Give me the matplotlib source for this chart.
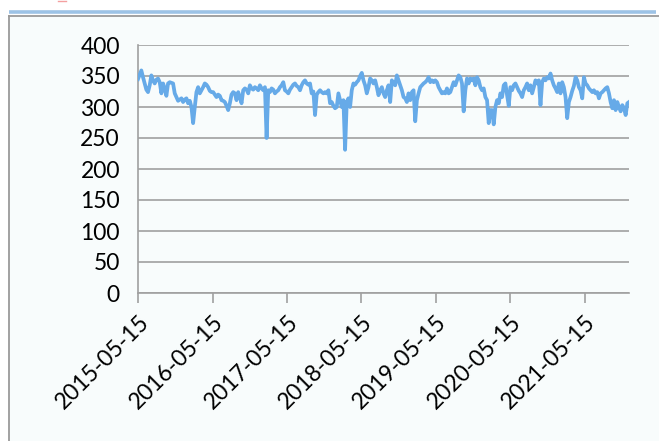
import matplotlib
matplotlib.use("Agg")
import matplotlib.pyplot as plt
import matplotlib.dates as mdates
from matplotlib.lines import Line2D
from matplotlib.patches import Rectangle
import pandas as pd

plt.rcParams['font.family'] = ['Lato', 'DejaVu Sans']

start_date = "2015-05-15"
end_date = "2021-12-18"

values = [
    # 2015-05 .. 2016-05
    345, 352, 359, 348, 338, 328, 324, 335, 351, 343, 338, 344, 346, 340, 322,
    338, 330, 318, 338, 340, 339, 338, 322, 316, 310, 312, 314, 308, 312, 314,
    306, 310, 300, 274, 300, 324, 332, 322, 327, 332, 338, 336, 332,
    # 2016-05 .. 2017-05
    326, 324, 324, 320, 316, 320, 318, 311, 310, 308, 302, 295, 306, 320, 324,
    322, 311, 324, 316, 306, 327, 330, 328, 322, 335, 330, 328, 332, 330, 327,
    335, 330, 327, 332, 250, 327, 324, 330, 328, 322, 325, 327, 332, 335, 340,
    # 2017-05 .. 2018-05
    327, 325, 322, 328, 332, 336, 338, 334, 332, 327, 335, 340, 343, 338, 336,
    338, 322, 325, 287, 320, 324, 327, 324, 322, 324, 322, 327, 306, 308, 302,
    298, 300, 322, 311, 300, 311, 231, 308, 314, 300, 327, 338, 336, 340, 343,
    # 2018-05 .. 2019-05
    350, 355, 343, 335, 322, 332, 346, 343, 338, 343, 332, 319, 327, 332, 322,
    316, 327, 335, 308, 343, 338, 335, 351, 343, 335, 327, 316, 314, 308, 322,
    311, 324, 327, 277, 311, 322, 332, 335, 338, 340, 343, 348, 340, 343, 340,
    # 2019-05 .. 2020-05
    343, 340, 332, 327, 322, 324, 322, 330, 322, 324, 332, 340, 335, 343, 351,
    348, 338, 293, 327, 346, 338, 346, 343, 346, 335, 348, 343, 332, 327, 330,
    316, 311, 274, 295, 295, 272, 300, 311, 306, 322, 316, 335, 338, 319, 302,
    # 2020-05 .. 2021-03
    332, 327, 335, 338, 332, 326, 322, 316, 327, 332, 338, 327, 335, 322, 332,
    343, 338, 343, 303, 340, 346, 343, 348, 346, 354, 343, 335, 330, 324, 338,
    322, 340, 332, 316, 282, 308, 316, 326, 334,
    # 2021-03 .. 2021-12
    348, 343, 332, 327, 314, 348, 338, 335, 330, 327, 324, 327, 322, 324, 314,
    322, 324, 327, 330, 332, 322, 308, 298, 311, 295, 308, 300, 293, 303, 298,
    287, 306, 308,
]

tick_labels = ["2015-05-15", "2016-05-15", "2017-05-15", "2018-05-15",
               "2019-05-15", "2020-05-15", "2021-05-15"]
y_ticks = [0, 50, 100, 150, 200, 250, 300, 350, 400]

dates = pd.date_range(start_date, end_date, periods=len(values))

W, H = 659, 441
fig = plt.figure(figsize=(W / 100, H / 100), dpi=100)
fig.patch.set_facecolor("white")

# outer frame decorations
fig.add_artist(Rectangle((9 / W, 0), 1 - 9 / W, 1 - 16 / H, transform=fig.transFigure,
                         facecolor="#f8fcfc", edgecolor="none", zorder=0))
fig.add_artist(Line2D([9 / W, 1], [1 - 16 / H, 1 - 16 / H], transform=fig.transFigure,
                      color="#9a9a9a", lw=1.3))
fig.add_artist(Line2D([9 / W, 9 / W], [0, 1 - 16 / H], transform=fig.transFigure,
                      color="#9a9a9a", lw=1.3))
fig.add_artist(Line2D([9 / W, 656 / W], [1 - 11.5 / H, 1 - 11.5 / H], transform=fig.transFigure,
                      color="#9dc3e6", lw=2.6, solid_capstyle="butt"))
fig.add_artist(Line2D([58 / W, 66 / W], [1 - 0.8 / H, 1 - 0.8 / H], transform=fig.transFigure,
                      color="#f4a0a0", lw=1.0))

ax = fig.add_axes([138 / W, 1 - 293 / H, (629 - 138) / W, (293 - 45) / H])
ax.set_facecolor("none")

ax.plot(dates, values, color="#66aae8", lw=2.7, solid_joinstyle="round", zorder=3)

ax.set_ylim(0, 400)
ax.set_yticks(y_ticks)
ax.set_xlim(pd.Timestamp(start_date), dates[-1])
ax.set_xticks(pd.to_datetime(tick_labels))
ax.set_xticklabels(tick_labels, rotation=45, ha="right", rotation_mode="anchor")
ax.grid(axis="y", color="#a0a0a0", lw=1.2)
ax.set_axisbelow(True)

for s in ["top", "right"]:
    ax.spines[s].set_visible(False)
for s in ["left", "bottom"]:
    ax.spines[s].set_color("#a0a0a0")
    ax.spines[s].set_linewidth(1.2)

ax.tick_params(axis="y", length=0, pad=13, labelsize=16.5, labelcolor="black")
ax.tick_params(axis="x", length=7, width=1.2, color="#a0a0a0", pad=6,
               labelsize=16.5, labelcolor="black", direction="out")

fig.savefig("out.png", dpi=100, facecolor="white")
